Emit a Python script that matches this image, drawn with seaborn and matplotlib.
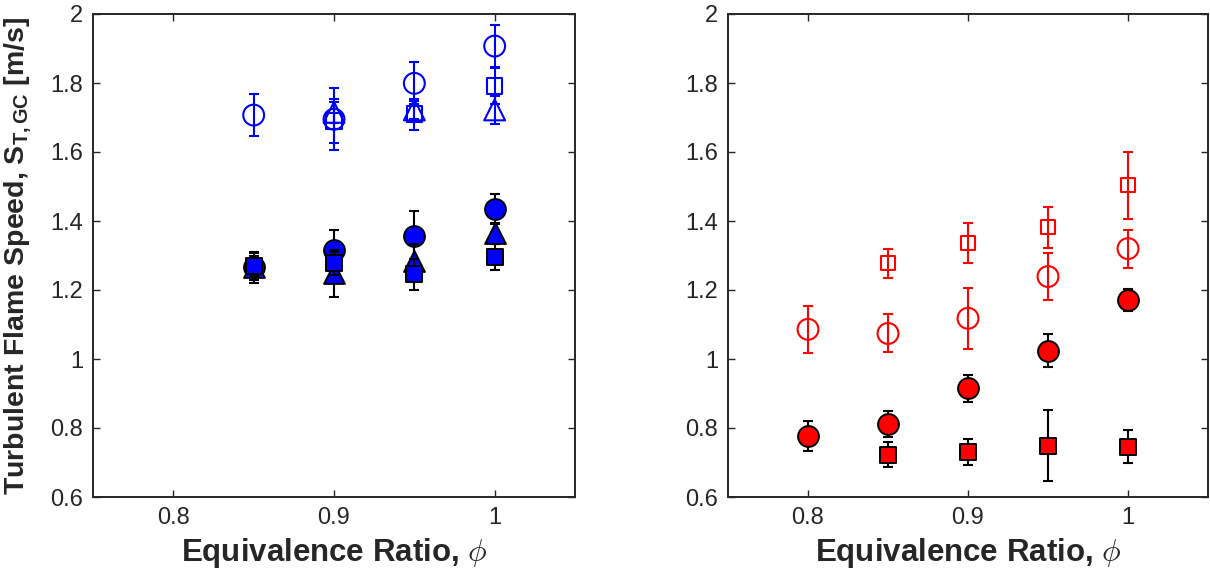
import matplotlib
matplotlib.use("Agg")
import matplotlib.pyplot as plt
import seaborn as sns
import numpy as np
from matplotlib.ticker import FuncFormatter

sns.set_theme(style="ticks")
plt.rcParams.update({
    "font.family": ["Liberation Sans", "DejaVu Sans"],
    "mathtext.fontset": "custom",
    "mathtext.rm": "Liberation Sans:bold",
    "mathtext.bf": "Liberation Sans:bold",
    "mathtext.it": "Liberation Sans:italic",
    "axes.edgecolor": "#262626",
    "axes.linewidth": 1.4,
    "xtick.color": "#262626",
    "ytick.color": "#262626",
    "text.color": "#262626",
})

# left panel (blue)
phi_left = [0.85, 0.90, 0.95, 1.00]
phi_left_b = [0.90, 0.95, 1.00]
open_circ_L = [1.707, 1.695, 1.799, 1.907]
open_circ_L_err = [0.062, 0.090, 0.061, 0.061]
open_sq_L = [1.690, 1.710, 1.791]
open_sq_L_err = [0.065, 0.045, 0.052]
open_tri_L = [1.715, 1.722, 1.722]
open_tri_L_err = [0.030, 0.025, 0.040]
fill_circ_L = [1.268, 1.316, 1.357, 1.435]
fill_circ_L_err = [0.040, 0.058, 0.073, 0.043]
fill_tri_L = [1.266, 1.248, 1.284, 1.364]
fill_tri_L_err = [0.045, 0.068, 0.050, 0.030]
fill_sq_L = [1.270, 1.277, 1.246, 1.295]
fill_sq_L_err = [0.030, 0.034, 0.045, 0.037]

# right panel (red)
phi_right = [0.80, 0.85, 0.90, 0.95, 1.00]
phi_right_b = [0.85, 0.90, 0.95, 1.00]
open_circ_R = [1.086, 1.074, 1.118, 1.239, 1.320]
open_circ_R_err = [0.068, 0.055, 0.088, 0.068, 0.055]
open_sq_R = [1.277, 1.337, 1.382, 1.504]
open_sq_R_err = [0.042, 0.058, 0.060, 0.097]
fill_circ_R = [0.777, 0.812, 0.915, 1.024, 1.171]
fill_circ_R_err = [0.043, 0.038, 0.040, 0.048, 0.033]
fill_sq_R = [0.722, 0.731, 0.749, 0.746]
fill_sq_R_err = [0.036, 0.037, 0.103, 0.048]

x_ticks = [0.8, 0.9, 1.0]
y_ticks = [0.6, 0.8, 1.0, 1.2, 1.4, 1.6, 1.8, 2.0]


def series(ax, x, y, err, marker, size, color, filled, z):
    ecol = "black" if filled else color
    ax.errorbar(x, y, yerr=err, fmt="none", ecolor=ecol, elinewidth=1.5,
                capsize=3.3, capthick=1.5, zorder=z)
    if filled:
        sns.scatterplot(x=x, y=y, ax=ax, marker=marker, s=size ** 2,
                        color=color, edgecolor="black", linewidth=1.4,
                        zorder=z + 0.5, legend=False)
    else:
        sns.scatterplot(x=x, y=y, ax=ax, marker=marker, s=size ** 2,
                        facecolors="none", edgecolors=color, linewidth=1.5,
                        zorder=z + 0.5, legend=False)


fig = plt.figure(figsize=(12.1, 5.79), dpi=100)
axL = fig.add_axes([93 / 1210, 82 / 579, 482 / 1210, 483 / 579])
axR = fig.add_axes([728 / 1210, 82 / 579, 480 / 1210, 483 / 579])

blue, red = (0, 0, 1), (1, 0, 0)
series(axL, phi_left, open_circ_L, open_circ_L_err, "o", 15, blue, False, 3)
series(axL, phi_left_b, open_tri_L, open_tri_L_err, "^", 15, blue, False, 5)
series(axL, phi_left_b, open_sq_L, open_sq_L_err, "s", 11, blue, False, 7)
series(axL, phi_left, fill_circ_L, fill_circ_L_err, "o", 15, blue, True, 9)
series(axL, phi_left, fill_tri_L, fill_tri_L_err, "^", 15, blue, True, 11)
series(axL, phi_left, fill_sq_L, fill_sq_L_err, "s", 11.5, blue, True, 13)

series(axR, phi_right, open_circ_R, open_circ_R_err, "o", 15, red, False, 3)
series(axR, phi_right_b, open_sq_R, open_sq_R_err, "s", 10, red, False, 5)
series(axR, phi_right, fill_circ_R, fill_circ_R_err, "o", 15, red, True, 7)
series(axR, phi_right_b, fill_sq_R, fill_sq_R_err, "s", 12, red, True, 9)

fmt = FuncFormatter(lambda v, p: "%g" % round(v, 2))
for ax in (axL, axR):
    ax.set_xlim(0.75, 1.05)
    ax.set_ylim(0.6, 2.0)
    ax.set_xticks(x_ticks)
    ax.set_yticks(y_ticks)
    ax.xaxis.set_major_formatter(fmt)
    ax.yaxis.set_major_formatter(fmt)
    ax.tick_params(direction="in", top=True, right=True, length=5,
                   width=1.0, labelsize=17, pad=7)
    for s in ax.spines.values():
        s.set_visible(True)
    ax.set_xlabel(r"Equivalence Ratio, $\phi$", fontsize=22.5,
                  fontweight="bold", math_fontfamily="cm", labelpad=5)
    ax.set_ylabel("")

axL.set_ylabel(r"Turbulent Flame Speed, S$_{\mathbf{T,GC}}$ [m/s]",
               fontsize=20.5, fontweight="bold")
axL.yaxis.set_label_coords(-0.125, 0.5)

fig.savefig("out.png", dpi=100)
